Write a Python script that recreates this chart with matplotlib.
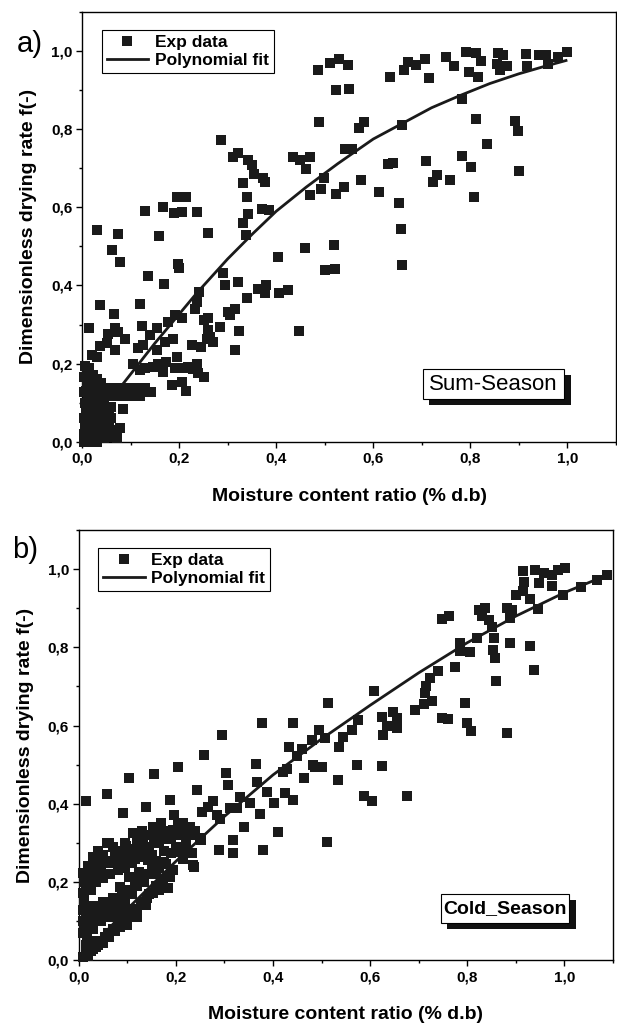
import numpy as np
import matplotlib
matplotlib.use("Agg")
import matplotlib.pyplot as plt
from matplotlib.patches import Rectangle
from matplotlib.ticker import MultipleLocator, FuncFormatter

plt.rcParams['font.family'] = ['Liberation Sans', 'DejaVu Sans']

## data

# a) summer season - scattered points
sum_x = [0.030, 0.075, 0.130, 0.167, 0.159, 0.195, 0.214, 0.189, 0.206, 0.236,
         0.259, 0.287, 0.311, 0.322, 0.342, 0.351, 0.354, 0.373, 0.377, 0.332,
         0.339, 0.342, 0.331, 0.337, 0.370, 0.385, 0.435, 0.449, 0.469, 0.461,
         0.469, 0.486, 0.488, 0.493, 0.498, 0.459, 0.061, 0.078,
         0.510, 0.529, 0.548, 0.524, 0.551, 0.580, 0.571, 0.541, 0.557, 0.524,
         0.540, 0.575, 0.612, 0.630, 0.641, 0.634, 0.663, 0.671, 0.689, 0.706,
         0.715, 0.750, 0.766, 0.792, 0.811, 0.821, 0.797, 0.815, 0.782, 0.812,
         0.834, 0.783, 0.802, 0.807, 0.709, 0.731, 0.723, 0.759, 0.652, 0.658,
         0.659, 0.519, 0.500, 0.521, 0.856, 0.868, 0.855, 0.860, 0.875, 0.915,
         0.916, 0.942, 0.956, 0.960, 0.980, 0.999, 0.892, 0.898, 0.901, 0.660,
         0.135, 0.169, 0.198, 0.200, 0.403, 0.447, 0.291, 0.294, 0.322, 0.241,
         0.236, 0.233, 0.191, 0.205, 0.178, 0.188, 0.171, 0.154, 0.154, 0.123,
         0.119, 0.140, 0.126, 0.116, 0.106, 0.130, 0.147, 0.157, 0.167, 0.174,
         0.195, 0.185, 0.205, 0.214, 0.219, 0.236, 0.226, 0.246, 0.239, 0.251,
         0.251, 0.260, 0.260, 0.263, 0.270, 0.284, 0.301, 0.315, 0.305, 0.324,
         0.315, 0.339, 0.363, 0.380, 0.377, 0.406, 0.425, 0.037, 0.066, 0.015,
         0.068, 0.054, 0.075, 0.088, 0.037, 0.051, 0.068, 0.020, 0.030, 0.006,
         0.010, 0.119, 0.191, 0.208, 0.228, 0.258]
sum_y = [0.541, 0.533, 0.591, 0.601, 0.526, 0.627, 0.627, 0.586, 0.588, 0.588,
         0.535, 0.773, 0.729, 0.739, 0.722, 0.708, 0.686, 0.674, 0.665, 0.662,
         0.627, 0.584, 0.560, 0.529, 0.597, 0.594, 0.729, 0.722, 0.729, 0.699,
         0.631, 0.952, 0.818, 0.648, 0.674, 0.495, 0.490, 0.460,
         0.969, 0.980, 0.965, 0.901, 0.904, 0.818, 0.803, 0.749, 0.749, 0.635,
         0.651, 0.669, 0.639, 0.710, 0.714, 0.935, 0.951, 0.972, 0.965, 0.981,
         0.932, 0.985, 0.962, 0.999, 0.995, 0.974, 0.946, 0.934, 0.878, 0.827,
         0.761, 0.731, 0.703, 0.627, 0.719, 0.682, 0.665, 0.671, 0.612, 0.544,
         0.452, 0.503, 0.439, 0.441, 0.995, 0.989, 0.968, 0.951, 0.963, 0.993,
         0.963, 0.989, 0.989, 0.968, 0.985, 0.999, 0.820, 0.796, 0.693, 0.812,
         0.425, 0.403, 0.454, 0.446, 0.473, 0.284, 0.431, 0.401, 0.409, 0.384,
         0.358, 0.341, 0.324, 0.316, 0.307, 0.264, 0.256, 0.235, 0.290, 0.296,
         0.352, 0.273, 0.247, 0.239, 0.200, 0.188, 0.192, 0.200, 0.179, 0.205,
         0.217, 0.145, 0.153, 0.130, 0.192, 0.200, 0.247, 0.243, 0.175, 0.166,
         0.311, 0.316, 0.286, 0.269, 0.256, 0.294, 0.332, 0.341, 0.324, 0.284,
         0.236, 0.369, 0.390, 0.401, 0.380, 0.381, 0.388, 0.350, 0.327, 0.290,
         0.290, 0.277, 0.281, 0.264, 0.245, 0.252, 0.235, 0.222, 0.216, 0.194,
         0.179, 0.183, 0.188, 0.190, 0.185, 0.262]

# a) summer season - dense cluster near the origin
sum_x_low = [0.005, 0.015, 0.025, 0.035, 0.045, 0.055, 0.065, 0.075, 0.085, 0.095,
             0.105, 0.115, 0.125, 0.135, 0.143, 0.010, 0.030, 0.050, 0.070, 0.090,
             0.110, 0.130, 0.020, 0.040, 0.060, 0.080, 0.100, 0.120,
             0.005, 0.005, 0.006, 0.005, 0.008, 0.006, 0.010, 0.012, 0.015,
             0.020, 0.030, 0.035, 0.040, 0.045, 0.050, 0.055, 0.060, 0.065, 0.073,
             0.078, 0.030, 0.025, 0.015, 0.012, 0.035, 0.050, 0.085, 0.020, 0.030,
             0.023, 0.040, 0.010, 0.018, 0.028, 0.042,
             0.005, 0.012, 0.018, 0.012, 0.020, 0.008, 0.025, 0.030, 0.040, 0.045,
             0.055, 0.035, 0.060, 0.050, 0.068, 0.015, 0.030, 0.045, 0.025, 0.005,
             0.015, 0.010]
sum_y_low = [0.128, 0.128, 0.128, 0.128, 0.128, 0.128, 0.128, 0.128, 0.128, 0.128,
             0.128, 0.128, 0.128, 0.128, 0.128, 0.138, 0.138, 0.138, 0.138, 0.138,
             0.138, 0.138, 0.118, 0.118, 0.118, 0.118, 0.118, 0.118,
             0.000, 0.020, 0.040, 0.060, 0.080, 0.100, 0.150, 0.170, 0.190,
             0.020, 0.050, 0.080, 0.030, 0.100, 0.060, 0.045, 0.090, 0.013, 0.010,
             0.036, 0.105, 0.090, 0.070, 0.110, 0.015, 0.020, 0.085, 0.145, 0.160,
             0.171, 0.150, 0.010, 0.040, 0.065, 0.075,
             0.010, 0.030, 0.050, 0.090, 0.110, 0.130, 0.060, 0.035, 0.055, 0.075,
             0.080, 0.100, 0.060, 0.035, 0.030, 0.000, 0.000, 0.010, 0.120, 0.165,
             0.120, 0.050]

# a) polynomial fit curve
sum_fit_x = [0.085, 0.15, 0.236, 0.30, 0.352, 0.40, 0.462, 0.527, 0.60, 0.66,
             0.72, 0.778, 0.84, 0.90, 0.95, 0.997]
sum_fit_y = [0.149, 0.252, 0.380, 0.468, 0.533, 0.590, 0.652, 0.712, 0.775, 0.815,
             0.855, 0.886, 0.917, 0.942, 0.960, 0.976]

# b) cold season - scattered points
cold_x = [0.015, 0.058, 0.104, 0.154, 0.205, 0.091, 0.138, 0.188, 0.197, 0.244,
          0.253, 0.276, 0.303, 0.308, 0.332, 0.367, 0.353, 0.373, 0.387, 0.401,
          0.420, 0.428, 0.425, 0.442, 0.463, 0.487, 0.341, 0.410, 0.288, 0.318,
          0.380, 0.318, 0.267, 0.284, 0.290, 0.312, 0.325, 0.250, 0.236, 0.233,
          0.216, 0.229, 0.220,
          0.377, 0.441, 0.295, 0.258, 0.365, 0.432, 0.459, 0.480, 0.494, 0.483,
          0.449, 0.507, 0.514, 0.500, 0.535, 0.545, 0.562, 0.574, 0.573, 0.607,
          0.624, 0.648, 0.655, 0.655, 0.627, 0.634, 0.625, 0.693, 0.710, 0.727,
          0.713, 0.715, 0.724, 0.739, 0.775, 0.748, 0.761, 0.796, 0.799, 0.807,
          0.882, 0.748, 0.763, 0.785, 0.785, 0.806, 0.820, 0.825, 0.837, 0.831,
          0.844, 0.851, 0.854, 0.853, 0.857, 0.860, 0.882, 0.892, 0.888, 0.887,
          0.930, 0.938, 0.945, 0.901, 0.915, 0.928, 0.915, 0.917, 0.940, 0.947,
          0.957, 0.974, 0.974, 0.987, 1.002, 0.997, 1.033, 1.067, 1.088,
          0.533, 0.588, 0.603, 0.676, 0.511]
cold_y = [0.406, 0.425, 0.465, 0.476, 0.495, 0.376, 0.393, 0.410, 0.372, 0.436,
          0.380, 0.406, 0.478, 0.447, 0.418, 0.457, 0.402, 0.373, 0.431, 0.402,
          0.482, 0.490, 0.427, 0.410, 0.465, 0.495, 0.342, 0.329, 0.282, 0.274,
          0.282, 0.308, 0.393, 0.372, 0.360, 0.389, 0.389, 0.312, 0.244, 0.274,
          0.338, 0.342, 0.320,
          0.606, 0.606, 0.576, 0.525, 0.502, 0.545, 0.540, 0.563, 0.589, 0.500,
          0.521, 0.568, 0.659, 0.495, 0.546, 0.572, 0.589, 0.615, 0.500, 0.689,
          0.623, 0.636, 0.619, 0.593, 0.576, 0.600, 0.497, 0.641, 0.656, 0.664,
          0.683, 0.700, 0.721, 0.740, 0.751, 0.619, 0.616, 0.659, 0.606, 0.587,
          0.582, 0.872, 0.879, 0.811, 0.790, 0.789, 0.824, 0.896, 0.900, 0.880,
          0.870, 0.853, 0.824, 0.794, 0.772, 0.715, 0.900, 0.895, 0.875, 0.812,
          0.804, 0.742, 0.898, 0.934, 0.943, 0.923, 0.994, 0.968, 0.998, 0.964,
          0.990, 0.985, 0.958, 0.997, 1.003, 0.934, 0.954, 0.971, 0.985,
          0.461, 0.421, 0.407, 0.421, 0.302]

# b) cold season - dense bands near the origin
cold_x_low = [0.008, 0.008, 0.018, 0.029, 0.040, 0.050, 0.063, 0.075, 0.085, 0.097,
              0.111, 0.120, 0.132, 0.142, 0.152, 0.160, 0.170, 0.180, 0.194, 0.205,
              0.214, 0.228, 0.238, 0.252, 0.020, 0.030, 0.045, 0.060, 0.070, 0.090,
              0.105, 0.115, 0.125, 0.145, 0.165, 0.175, 0.190, 0.200, 0.220, 0.010,
              0.025, 0.035, 0.050, 0.065, 0.080, 0.095, 0.110, 0.130, 0.150, 0.160,
              0.175, 0.190, 0.210, 0.215, 0.230, 0.238, 0.058,
              0.015, 0.020, 0.035, 0.045, 0.055, 0.070, 0.085, 0.100, 0.115, 0.135,
              0.155, 0.170, 0.185, 0.200, 0.220, 0.240, 0.010, 0.040, 0.095, 0.130,
              0.165,
              0.008, 0.008, 0.008, 0.020, 0.020, 0.036, 0.030, 0.050, 0.063, 0.070,
              0.084, 0.090, 0.104, 0.115, 0.132, 0.142, 0.150, 0.173, 0.187, 0.183,
              0.139, 0.091, 0.075, 0.100, 0.120, 0.045, 0.060, 0.018, 0.030, 0.125,
              0.160, 0.195, 0.085, 0.050,
              0.015, 0.025, 0.040, 0.055, 0.065, 0.080, 0.095, 0.110, 0.120, 0.135,
              0.145, 0.165, 0.180, 0.010, 0.030, 0.060, 0.075, 0.100, 0.130, 0.155,
              0.008, 0.015, 0.025, 0.036, 0.045, 0.055, 0.063, 0.070, 0.084, 0.095,
              0.104, 0.115, 0.128, 0.140, 0.152, 0.160, 0.173, 0.185, 0.100, 0.120,
              0.020, 0.030, 0.040, 0.050, 0.060, 0.075, 0.080, 0.090, 0.110, 0.135,
              0.145, 0.165, 0.015, 0.025]
cold_y_low = [0.171, 0.222, 0.200, 0.265, 0.240, 0.270, 0.299, 0.270, 0.280, 0.291,
              0.325, 0.300, 0.308, 0.320, 0.342, 0.320, 0.350, 0.330, 0.333, 0.345,
              0.350, 0.342, 0.320, 0.308, 0.215, 0.230, 0.260, 0.255, 0.290, 0.260,
              0.270, 0.285, 0.280, 0.290, 0.300, 0.280, 0.310, 0.290, 0.300, 0.155,
              0.180, 0.200, 0.210, 0.220, 0.230, 0.235, 0.250, 0.265, 0.270, 0.255,
              0.252, 0.275, 0.278, 0.260, 0.275, 0.239, 0.299,
              0.190, 0.240, 0.220, 0.235, 0.250, 0.250, 0.255, 0.260, 0.260, 0.285,
              0.300, 0.310, 0.320, 0.320, 0.330, 0.330, 0.200, 0.280, 0.300, 0.330,
              0.340,
              0.129, 0.069, 0.100, 0.090, 0.120, 0.120, 0.140, 0.130, 0.137, 0.160,
              0.188, 0.170, 0.214, 0.200, 0.210, 0.257, 0.235, 0.252, 0.214, 0.184,
              0.141, 0.095, 0.120, 0.130, 0.120, 0.100, 0.110, 0.060, 0.080, 0.225,
              0.220, 0.230, 0.120, 0.150,
              0.110, 0.100, 0.120, 0.120, 0.130, 0.140, 0.150, 0.170, 0.190, 0.200,
              0.220, 0.235, 0.245, 0.080, 0.110, 0.140, 0.160, 0.180, 0.220, 0.250,
              0.009, 0.020, 0.025, 0.035, 0.050, 0.060, 0.060, 0.080, 0.085, 0.100,
              0.111, 0.130, 0.146, 0.160, 0.171, 0.190, 0.205, 0.215, 0.090, 0.110,
              0.010, 0.030, 0.040, 0.045, 0.070, 0.075, 0.100, 0.090, 0.120, 0.150,
              0.170, 0.180, 0.040, 0.050]

# b) polynomial fit curve
cold_fit_x = [0.003, 0.1, 0.2, 0.3, 0.4, 0.5, 0.6, 0.7, 0.8, 0.9, 1.0, 1.088]
cold_fit_y = [0.004, 0.131, 0.253, 0.368, 0.474, 0.566, 0.652, 0.735, 0.812, 0.880, 0.940, 0.985]

## plotting

fig = plt.figure(figsize=(6.17, 10.23), dpi=100)
ax1 = fig.add_axes([0.1329, 0.5682, 0.8655, 0.42])
ax2 = fig.add_axes([0.1276, 0.0613, 0.866, 0.4206])

comma = FuncFormatter(lambda v, p: ('%.1f' % v).replace('.', ','))


def style(ax):
	ax.set_xlim(0, 1.1)
	ax.set_ylim(0, 1.1)
	ax.xaxis.set_major_locator(MultipleLocator(0.2))
	ax.xaxis.set_minor_locator(MultipleLocator(0.1))
	ax.yaxis.set_major_locator(MultipleLocator(0.2))
	ax.yaxis.set_minor_locator(MultipleLocator(0.1))
	ax.xaxis.set_major_formatter(comma)
	ax.yaxis.set_major_formatter(comma)
	ax.tick_params(which='both', direction='out', top=False, right=False, width=1.0)
	ax.tick_params(which='major', length=4, labelsize=11, pad=3)
	ax.tick_params(which='minor', length=2.5)
	for lab in ax.get_xticklabels() + ax.get_yticklabels():
		lab.set_fontweight('bold')
	for sp in ax.spines.values():
		sp.set_linewidth(1.0)
	ax.set_xlabel('Moisture content ratio (% d.b)', fontsize=14, fontweight='bold', labelpad=16)
	ax.set_ylabel('Dimensionless drying rate f(-)', fontsize=14, fontweight='bold', labelpad=10)


def tag(ax, txt, x0, y0, w, h, bold):
	# white box with a black drop shadow
	dx = 6.5 / 534
	dy = 6.0 / 430
	ax.add_patch(Rectangle((x0 + dx, y0 - dy), w, h, transform=ax.transAxes,
	                       fc='#111111', ec='none', zorder=5))
	ax.add_patch(Rectangle((x0, y0), w, h, transform=ax.transAxes,
	                       fc='white', ec='black', lw=0.8, zorder=6))
	ax.text(x0 + w / 2, y0 + h / 2, txt, transform=ax.transAxes, ha='center', va='center',
	        fontsize=16 if not bold else 14, fontweight='bold' if bold else 'normal', zorder=7)


for ax, xs, ys, xl, yl, fx, fy in [(ax1, sum_x, sum_y, sum_x_low, sum_y_low, sum_fit_x, sum_fit_y),
                                   (ax2, cold_x, cold_y, cold_x_low, cold_y_low, cold_fit_x, cold_fit_y)]:
	ax.plot(xs + xl, ys + yl, 's', color='#1a1a1a', markersize=6.9, markeredgewidth=0,
	        label='Exp data', zorder=3, clip_on=False)
	ax.plot(fx, fy, '-', color='#1a1a1a', lw=2.0, label='Polynomial fit', zorder=4)
	style(ax)

leg_kw = dict(loc='upper left', borderaxespad=0, fancybox=False, edgecolor='black',
              framealpha=1, handlelength=2.4, handletextpad=0.4, borderpad=0.25,
              labelspacing=0.2, prop={'weight': 'bold', 'size': 12.5})
l1 = ax1.legend(bbox_to_anchor=(0.038, 0.958), **leg_kw)
l2 = ax2.legend(bbox_to_anchor=(0.037, 0.9575), **leg_kw)
for l in (l1, l2):
	l.get_frame().set_linewidth(0.8)

tag(ax1, 'Sum-Season', 0.638, 0.0987, 0.265, 0.070, False)
tag(ax2, 'Cold_Season', 0.6775, 0.0874, 0.2405, 0.066, True)

fig.text(0.027, 0.949, 'a)', fontsize=21, va='baseline')
fig.text(0.019, 0.4545, 'b)', fontsize=21, va='baseline')

fig.savefig('out.png', dpi=100)
